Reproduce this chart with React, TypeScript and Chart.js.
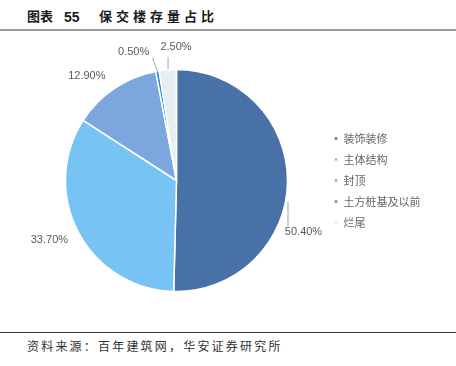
import React, { useEffect, useRef } from "react";
import { Chart, registerables } from "chart.js";

Chart.register(...registerables);

const categories = ["装饰装修", "主体结构", "封顶", "土方桩基及以前", "烂尾"];
const shares = [50.4, 33.7, 12.9, 0.5, 2.5];
const colors = ["#4872A7", "#77C3F4", "#7BA7DE", "#1F8FE0", "#E6EEF2"];
const valueLabels = shares.map((v) => v.toFixed(2) + "%");

// label offsets relative to the slice's outer edge point (mid angle)
const labelOffsets = [
  { dx: 16, dy: 50.5, leader: [[0.5, 19.5], [0.5, 44.5]] },
  { dx: -29, dy: 8, leader: null },
  { dx: -27.6, dy: -12.6, leader: null },
  { dx: -23.8, dy: -19.2, leader: [[0.2, 0.8], [-4.8, -13.2]] },
  { dx: 8.25, dy: -22.8, leader: [[0.25, -0.8], [0.25, -12.8]] },
];

const labelPlugin = {
  id: "sliceLabels",
  afterDatasetsDraw(chart: any) {
    const ctx = chart.ctx;
    const meta = chart.getDatasetMeta(0);
    ctx.save();
    meta.data.forEach((arc: any, i: number) => {
      const { x, y, startAngle, endAngle, outerRadius } = arc.getProps(
        ["x", "y", "startAngle", "endAngle", "outerRadius"],
        true
      );
      const mid = (startAngle + endAngle) / 2;
      const ex = x + Math.cos(mid) * outerRadius;
      const ey = y + Math.sin(mid) * outerRadius;
      const o = labelOffsets[i];
      if (o.leader) {
        ctx.strokeStyle = "#A6A6A6";
        ctx.lineWidth = 1;
        ctx.beginPath();
        ctx.moveTo(ex + o.leader[0][0], ey + o.leader[0][1]);
        ctx.lineTo(ex + o.leader[1][0], ey + o.leader[1][1]);
        ctx.stroke();
      }
      ctx.fillStyle = "#595959";
      ctx.font = '11px "Liberation Sans", Arial, sans-serif';
      ctx.textAlign = "center";
      ctx.textBaseline = "middle";
      ctx.fillText(valueLabels[i], ex + o.dx, ey + o.dy);
    });
    ctx.restore();
  },
};

export default function App() {
  const ref = useRef<HTMLCanvasElement | null>(null);
  useEffect(() => {
    document.body.style.margin = "0";
    const chart = new Chart(ref.current as HTMLCanvasElement, {
      type: "pie",
      data: {
        labels: categories,
        datasets: [
          {
            data: shares,
            backgroundColor: colors,
            borderColor: "#FFFFFF",
            borderWidth: 1.5,
          },
        ],
      },
      options: {
        responsive: false,
        animation: false,
        radius: 111,
        layout: { padding: { left: 29, right: 25.5, top: 30, bottom: 33 } },
        plugins: {
          tooltip: { enabled: false },
          legend: {
            position: "right",
            labels: {
              boxWidth: 4,
              boxHeight: 4,
              padding: 10,
              color: "#666666",
              font: { size: 11, family: '"Noto Sans CJK SC", sans-serif' },
            },
          },
        },
      } as any,
      plugins: [labelPlugin],
    });
    return () => chart.destroy();
  }, []);

  return (
    <div style={{ position: "relative", width: 456, height: 366, background: "#fff", overflow: "hidden" }}>
      <div
        style={{
          position: "absolute",
          left: 27,
          top: 8,
          height: 18,
          lineHeight: "18px",
          fontSize: 13,
          fontWeight: "bold",
          color: "#1a1a1a",
          fontFamily: '"Liberation Sans", "Noto Sans CJK SC", sans-serif',
          whiteSpace: "nowrap",
        }}
      >
        <span>图表</span>
        <span style={{ position: "absolute", left: 37, fontSize: 14 }}>55</span>
        <span style={{ position: "absolute", left: 72, letterSpacing: 4 }}>保交楼存量占比</span>
      </div>
      <div style={{ position: "absolute", left: 0, top: 29, width: 456, height: 2, background: "#9A9A9A" }} />
      <div style={{ position: "absolute", left: 0, top: 32, width: 456, height: 300 }}>
        <canvas ref={ref} width={456} height={300} />
      </div>
      <div style={{ position: "absolute", left: 0, top: 332, width: 456, height: 1, background: "#333" }} />
      <div
        style={{
          position: "absolute",
          left: 27,
          top: 338,
          lineHeight: "16px",
          fontSize: 12,
          letterSpacing: 2.2,
          color: "#333",
          fontFamily: '"Noto Sans CJK SC", sans-serif',
          whiteSpace: "nowrap",
        }}
      >
        资料来源：百年建筑网，华安证券研究所
      </div>
    </div>
  );
}
